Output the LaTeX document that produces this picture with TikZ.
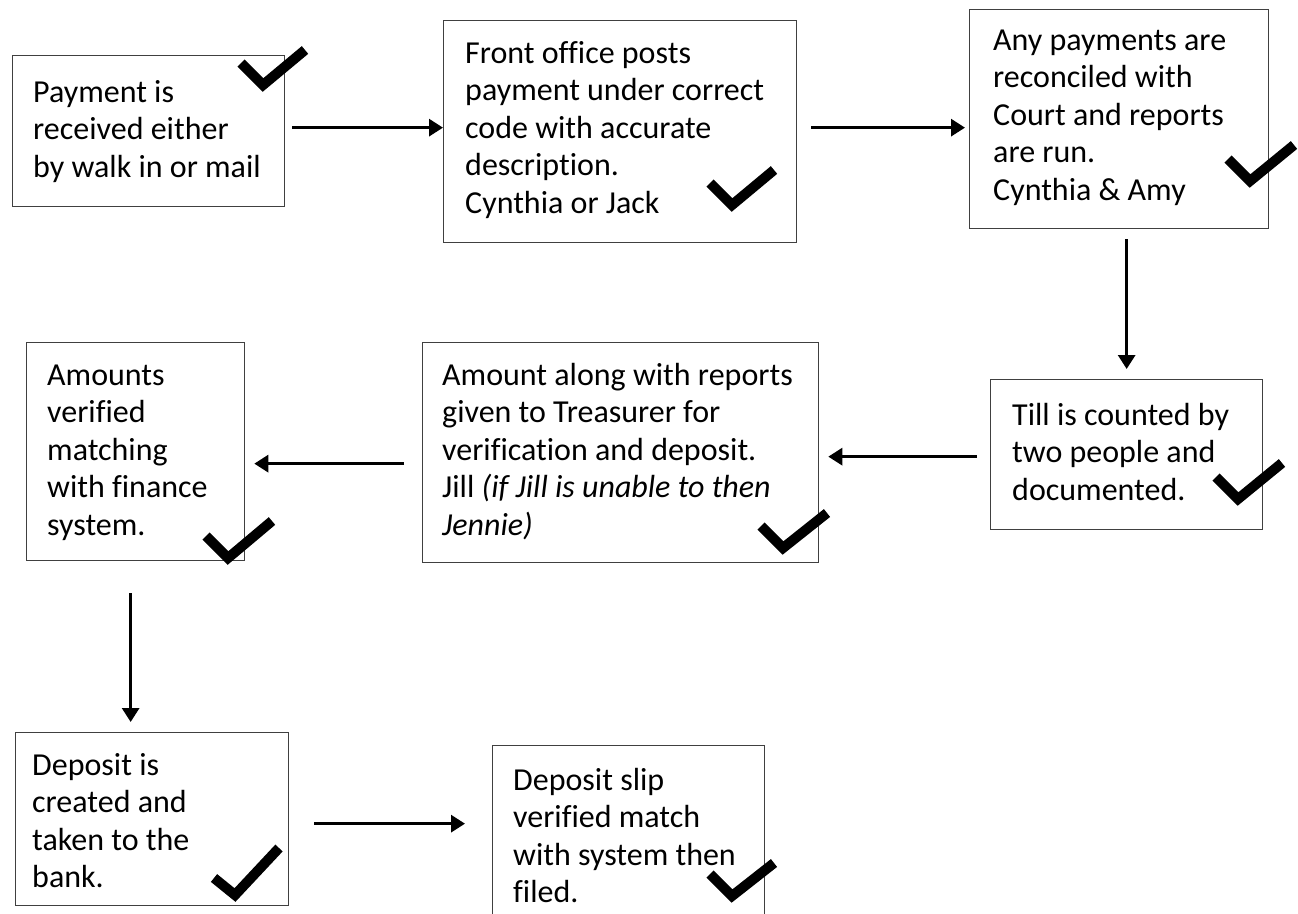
\documentclass[tikz,border=0pt]{standalone}
\usepackage{fontspec}
\setmainfont{Carlito}[Ligatures=NoCommon]
\usetikzlibrary{arrows.meta}
\tikzset{
  box/.style={draw=black!75, line width=1.3pt, fill=none, anchor=north west, inner sep=0pt},
  txt/.style={anchor=base west, inner sep=0pt, font=\fontsize{32}{37.5}\selectfont},
  arr/.style={line width=3pt, -{Triangle[length=14pt,width=17pt]}},
  check/.style={line width=10pt, line join=miter, line cap=butt}
}
\newcommand{\lns}[1]{\begin{tabular}[t]{@{}l@{}}#1\end{tabular}}
\begin{document}
\begin{tikzpicture}[x=1pt, y=-1pt]
\useasboundingbox (0,0) rectangle (1298,913);
\clip (0,0) rectangle (1298,913);
\fill[white] (0,0) rectangle (1298,913);
% boxes
\node[box, minimum width=272pt, minimum height=151pt] (b1) at (12,55) {};
\node[box, minimum width=353pt, minimum height=222pt] (b2) at (443,20) {};
\node[box, minimum width=299pt, minimum height=219pt] (b3) at (969,9) {};
\node[box, minimum width=272pt, minimum height=150pt] (b4) at (990,379) {};
\node[box, minimum width=396pt, minimum height=220pt] (b5) at (422,342) {};
\node[box, minimum width=218pt, minimum height=218pt] (b6) at (26,342) {};
\node[box, minimum width=273pt, minimum height=173pt] (b7) at (15,732) {};
\node[box, minimum width=272pt, minimum height=200pt] (b8) at (492,745) {};
% texts
\node[txt] (t1) at (33,102) {\lns{Payment is\\received either\\by walk in or mail}};
\node[txt] (t2) at (465,63) {\lns{Front office posts\\payment under correct\\code with accurate\\description.\\Cynthia or Jack}};
\node[txt] (t3) at (993,50) {\lns{Any payments are\\reconciled with\\Court and reports\\are run.\\Cynthia \& Amy}};
\node[txt] (t4) at (1012,425) {\lns{Till is counted by\\two people and\\documented.}};
\node[txt] (t5) at (442,385) {\lns{Amount along with reports\\given to Treasurer for\\verification and deposit.\\Jill \textit{(if Jill is unable to then}\\\textit{Jennie)}}};
\node[txt] (t6) at (47,385) {\lns{Amounts\\verified\\matching\\with finance\\system.}};
\node[txt] (t7) at (32,775) {\lns{Deposit is\\created and\\taken to the\\bank.}};
\node[txt] (t8) at (513,790) {\lns{Deposit slip\\verified match\\with system then\\filed.}};
% connectors
\draw[arr] ([xshift=7pt,yshift=3.5pt]b1.east) -- ([yshift=3.5pt]b1.east -| b2.west);
\draw[arr] ([xshift=14pt,yshift=4pt]b2.east) -- ([xshift=-4pt,yshift=4pt]b2.east -| b3.west);
\draw[arr] ([yshift=-10pt]b4.north |- b3.south) -- ([yshift=10pt]b4.north);
\draw[arr] ([xshift=-13pt,yshift=-2pt]b4.west) -- ([xshift=9pt,yshift=-2pt]b4.west -| b5.east);
\draw[arr] ([xshift=-18pt,yshift=-11pt]b5.west) -- ([xshift=9pt,yshift=-11pt]b5.west -| b6.east);
\draw[arr] ([xshift=-5pt,yshift=-32pt]b6.south) -- ([xshift=-5pt,yshift=10pt]b6.south |- b7.north);
\draw[arr] ([xshift=25pt,yshift=-4.5pt]b7.east) -- ([xshift=-27pt,yshift=-4.5pt]b7.east -| b8.west);
% check marks
\draw[check] (241,63) -- (263,85) -- (305,50);
\draw[check] (710,183) -- (732,205) -- (774,170);
\draw[check] (1228,159) -- (1250,181) -- (1294,145);
\draw[check] (1216,477) -- (1238,499) -- (1282,463);
\draw[check] (761,526) -- (783,548) -- (827,513);
\draw[check] (206,536) -- (228,558) -- (272,521);
\draw[check] (214,878) -- (235,895) -- (279,848);
\draw[check] (710,874) -- (732,896) -- (774,863);
\end{tikzpicture}
\end{document}
